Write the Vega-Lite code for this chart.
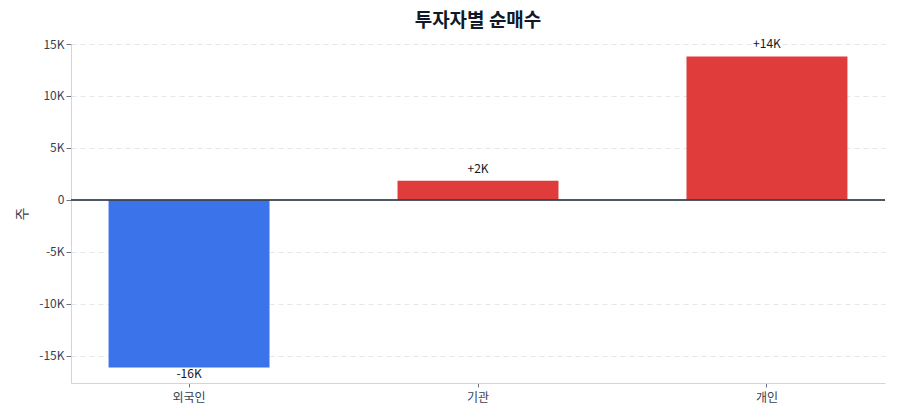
{
  "$schema": "https://vega.github.io/schema/vega-lite/v6.json",
  "width": 814,
  "height": 339,
  "autosize": {"type": "none"},
  "padding": {"left": 71, "top": 44, "right": 15, "bottom": 37},
  "title": {
    "text": "투자자별 순매수",
    "fontSize": 19,
    "fontWeight": "bold",
    "font": "Noto Sans CJK KR",
    "color": "#111827",
    "anchor": "middle",
    "offset": 7
  },
  "data": {
    "values": [
      {"investor": "외국인", "net": -16100, "label": "-16K"},
      {"investor": "기관", "net": 1850, "label": "+2K"},
      {"investor": "개인", "net": 13800, "label": "+14K"}
    ]
  },
  "encoding": {
    "x": {
      "field": "investor",
      "type": "nominal",
      "sort": null,
      "scale": {"paddingInner": 0.443, "paddingOuter": 0.13},
      "axis": {
        "title": null,
        "labelAngle": 0,
        "labelFontSize": 12,
        "labelPadding": 5,
        "tickSize": 4,
        "tickColor": "#6b7280",
        "domainColor": "#d1d5db",
        "grid": false
      }
    }
  },
  "layer": [
    {
      "mark": {"type": "bar"},
      "encoding": {
        "y": {
          "field": "net",
          "type": "quantitative",
          "scale": {"domain": [-17600, 15000], "nice": false, "zero": true},
          "axis": {
            "title": "주",
            "titleFontSize": 14,
            "titleFontWeight": "normal",
            "titlePadding": 9,
            "titleColor": "#374151",
            "values": [-15000, -10000, -5000, 0, 5000, 10000, 15000],
            "labelExpr": "datum.value == 0 ? '0' : (datum.value / 1000) + 'K'",
            "labelFontSize": 12,
            "tickSize": 5,
            "tickColor": "#6b7280",
            "domainColor": "#d1d5db",
            "gridColor": "#e5e7eb",
            "gridDash": [5, 4]
          }
        },
        "color": {
          "condition": {"test": "datum.net < 0", "value": "#3b73ea"},
          "value": "#e03c3c"
        }
      }
    },
    {
      "mark": {"type": "rule", "color": "#374151", "strokeWidth": 1.2},
      "encoding": {"y": {"datum": 0}, "x": {"value": 0}, "x2": {"value": 814}}
    },
    {
      "transform": [{"filter": "datum.net >= 0"}],
      "mark": {"type": "text", "baseline": "bottom", "dy": -5, "fontSize": 12, "font": "Noto Sans CJK KR", "color": "#111827"},
      "encoding": {
        "y": {"field": "net", "type": "quantitative"},
        "text": {"field": "label"}
      }
    },
    {
      "transform": [{"filter": "datum.net < 0"}],
      "mark": {"type": "text", "baseline": "top", "dy": 2, "fontSize": 12, "font": "Noto Sans CJK KR", "color": "#111827"},
      "encoding": {
        "y": {"field": "net", "type": "quantitative"},
        "text": {"field": "label"}
      }
    }
  ],
  "config": {
    "font": "Noto Sans CJK KR",
    "view": {"stroke": null},
    "axis": {"labelColor": "#374151", "labelFont": "Noto Sans CJK KR", "titleFont": "Noto Sans CJK KR"}
  }
}
